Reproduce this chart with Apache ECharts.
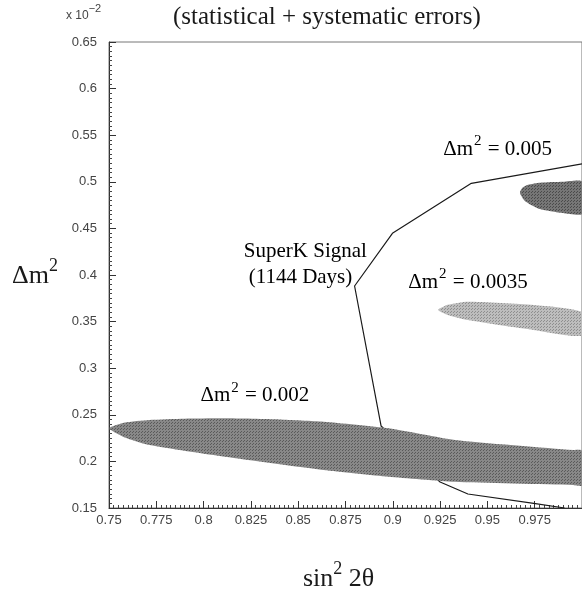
<!DOCTYPE html>
<html>
<head>
<meta charset="utf-8">
<script src="https://cdn.jsdelivr.net/npm/echarts@6/dist/echarts.min.js"></script>
<style>
  html, body { margin: 0; padding: 0; background: #fff; }
  #chart { width: 582px; height: 590px; }
</style>
</head>
<body>
<div id="chart"></div>
<script>
// Axis ranges and tick spacing
const xRange = [0.75, 1.0];
const yRange = [0.15, 0.65];
const xTickStep = 0.025;
const yTickStep = 0.05;

// Allowed region for Δm² = 0.002 (outline, sin²2θ vs Δm² ×10⁻²)
const region002 = [
  [0.75, 0.2355], [0.758, 0.2415], [0.7714, 0.2444], [0.79, 0.2458],
  [0.8113, 0.2462], [0.84, 0.2450], [0.8634, 0.2426], [0.8979, 0.2355],
  [0.9328, 0.2230], [0.9953, 0.2122], [1.0, 0.2115],
  [1.0, 0.1742], [0.9953, 0.1747], [0.9328, 0.1782], [0.8979, 0.1836],
  [0.8634, 0.1908], [0.8113, 0.2050], [0.7714, 0.2176], [0.758, 0.2260]
];

// Allowed region for Δm² = 0.0035
const region0035 = [
  [0.9240, 0.3624], [0.929, 0.3680], [0.9397, 0.3714], [0.9745, 0.3678],
  [1.0, 0.3600], [1.0, 0.3350], [0.9745, 0.3410], [0.9397, 0.3517],
  [0.929, 0.3572]
];

// Allowed region for Δm² = 0.005
const region005 = [
  [0.9672, 0.4880], [0.9685, 0.4935], [0.9715, 0.4968], [0.978, 0.4990],
  [0.99, 0.5000], [1.0, 0.5003], [1.0, 0.4655], [0.99, 0.4665],
  [0.9770, 0.4712], [0.9700, 0.4790]
];

// SuperK signal contour (1144 days)
const superK = [
  [1.0, 0.5193], [0.9415, 0.4984], [0.8998, 0.4447], [0.8798, 0.3882],
  [0.8938, 0.2380], [0.925, 0.1779], [0.9397, 0.1650], [0.9745, 0.1550],
  [0.9908, 0.1500]
];

// Annotation anchors (data coordinates) and texts
const notes = [
  { at: [0.9554, 0.5377], text: '{a|Δm}{s|2}{a| = 0.005}', color: '#222' },
  { at: [0.8538, 0.4276], text: '{a|SuperK Signal}', color: '#222' },
  { at: [0.8512, 0.4000], text: '{a|(1144 Days)}', color: '#222' },
  { at: [0.9397, 0.3946], text: '{a|Δm}{s|2}{a| = 0.0035}', color: '#b4b4b4' },
  { at: [0.8271, 0.2731], text: '{a|Δm}{s|2}{a| = 0.002}', color: '#8a8a8a' }
];

const SERIF = '"Liberation Serif", "DejaVu Serif", serif';
const SANS = '"Liberation Sans", Arial, sans-serif';

function halftone(base, dot) {
  const c = document.createElement('canvas');
  c.width = 3; c.height = 3;
  const g = c.getContext('2d');
  g.fillStyle = base; g.fillRect(0, 0, 3, 3);
  g.fillStyle = dot; g.fillRect(0, 0, 1, 1); g.fillRect(1, 2, 1, 1);
  return { image: c, repeat: 'repeat' };
}

function regionSeries(name, pts, fill, z) {
  return {
    type: 'custom',
    name: name,
    z: z,
    clip: true,
    silent: true,
    data: pts,
    renderItem: function (params, api) {
      if (params.dataIndex !== 0) return;
      const points = pts.map(function (p) { return api.coord(p); });
      return {
        type: 'polygon',
        shape: { points: points, smooth: 0.2 },
        style: { fill: fill, stroke: null }
      };
    }
  };
}

function fmt(v) { return String(+v.toFixed(3)); }

const chart = echarts.init(document.getElementById('chart'), null, { renderer: 'canvas' });

chart.setOption({
  animation: false,
  backgroundColor: '#fff',
  grid: {
    left: 109, top: 42, width: 480, height: 466,
    show: true, borderColor: '#777', borderWidth: 1, backgroundColor: 'transparent'
  },
  xAxis: {
    type: 'value', min: xRange[0], max: xRange[1], interval: xTickStep,
    axisLine: { show: true, onZero: false, lineStyle: { color: '#333', width: 1 } },
    axisTick: { show: true, inside: true, length: 7, lineStyle: { color: '#333' } },
    minorTick: { show: true, splitNumber: 10, length: 3, lineStyle: { color: '#444' } },
    splitLine: { show: false },
    axisLabel: {
      formatter: fmt, showMaxLabel: false, margin: 6,
      fontFamily: SANS, fontSize: 13, color: '#444'
    }
  },
  yAxis: {
    type: 'value', min: yRange[0], max: yRange[1], interval: yTickStep,
    axisLine: { show: true, onZero: false, lineStyle: { color: '#333', width: 1 } },
    axisTick: { show: true, inside: true, length: 7, lineStyle: { color: '#333' } },
    minorTick: { show: true, splitNumber: 10, length: 3, lineStyle: { color: '#444' } },
    splitLine: { show: false },
    axisLabel: {
      formatter: fmt, margin: 12,
      fontFamily: SANS, fontSize: 13, color: '#444'
    }
  },
  series: [
    {
      type: 'line',
      name: 'SuperK Signal',
      data: superK,
      symbol: 'none',
      z: 2,
      clip: true,
      silent: true,
      lineStyle: { color: '#1a1a1a', width: 1.2 }
    },
    regionSeries('Δm² = 0.002', region002, halftone('#888888', '#5a5a5a'), 3),
    regionSeries('Δm² = 0.0035', region0035, halftone('#bdbdbd', '#8e8e8e'), 3),
    regionSeries('Δm² = 0.005', region005, halftone('#767676', '#4a4a4a'), 3),
    {
      type: 'custom',
      name: 'notes',
      z: 4,
      silent: true,
      data: notes.map(function (n) { return n.at; }),
      renderItem: function (params, api) {
        const n = notes[params.dataIndex];
        const p = api.coord(n.at);
        return {
          type: 'text',
          x: p[0], y: p[1],
          style: {
            text: n.text,
            align: 'center', verticalAlign: 'middle',
            rich: {
              a: { fontFamily: SERIF, fontSize: 21, color: n.color, lineHeight: 26, verticalAlign: 'bottom' },
              s: { fontFamily: SERIF, fontSize: 15, color: n.color, lineHeight: 26, verticalAlign: 'top', padding: [0, 1, 0, 1] }
            }
          }
        };
      }
    }
  ],
  graphic: [
    {
      type: 'text', left: 173, top: 5,
      style: { text: '(statistical + systematic errors)', fontFamily: SERIF, fontSize: 25, fill: '#1a1a1a' }
    },
    {
      type: 'text', left: 66, top: 3,
      style: {
        text: '{a|x 10}{s|−2}',
        rich: {
          a: { fontFamily: SANS, fontSize: 12, fill: '#444', lineHeight: 19, verticalAlign: 'bottom' },
          s: { fontFamily: SANS, fontSize: 11, fill: '#444', lineHeight: 19, verticalAlign: 'top' }
        }
      }
    },
    {
      type: 'text', left: 12, top: 257,
      style: {
        text: '{a|Δm}{s|2}',
        rich: {
          a: { fontFamily: SERIF, fontSize: 26, fill: '#1a1a1a', lineHeight: 32, verticalAlign: 'bottom' },
          s: { fontFamily: SERIF, fontSize: 18, fill: '#1a1a1a', lineHeight: 32, verticalAlign: 'top' }
        }
      }
    },
    {
      type: 'text', left: 303, top: 560,
      style: {
        text: '{a|sin}{s|2}{a| 2θ}',
        rich: {
          a: { fontFamily: SERIF, fontSize: 26, fill: '#1a1a1a', lineHeight: 32, verticalAlign: 'bottom' },
          s: { fontFamily: SERIF, fontSize: 18, fill: '#1a1a1a', lineHeight: 32, verticalAlign: 'top' }
        }
      }
    }
  ]
});
</script>
</body>
</html>
